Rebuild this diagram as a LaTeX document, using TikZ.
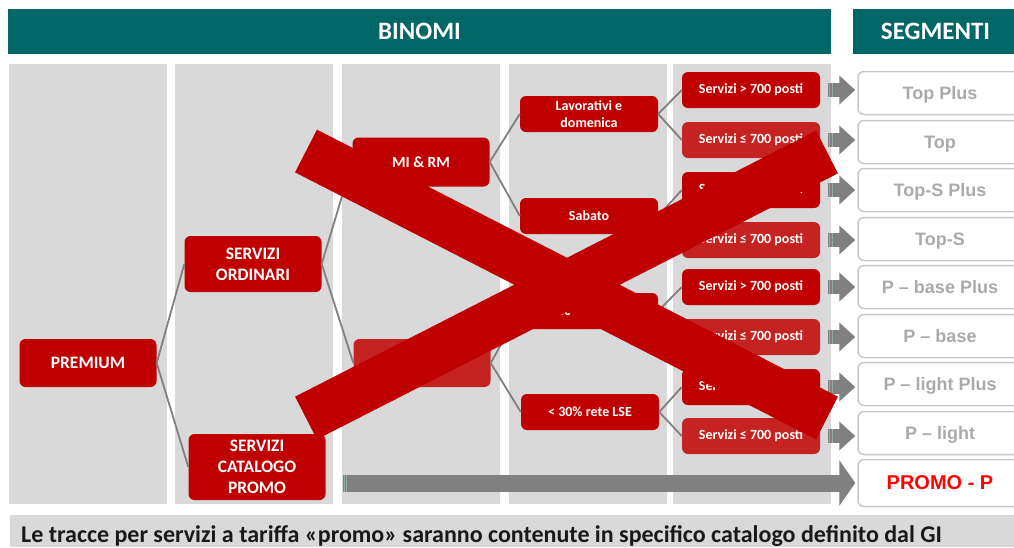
\documentclass[tikz,border=0pt]{standalone}
\usepackage{fontspec}
\setmainfont{Carlito}
\newfontfamily\segfont{Liberation Sans}
\usetikzlibrary{arrows.meta}
\definecolor{binteal}{RGB}{0,102,102}
\definecolor{binred}{RGB}{192,0,0}
\definecolor{binredl}{RGB}{197,34,34}
\definecolor{colgrey}{RGB}{217,217,217}
\definecolor{lnkgrey}{RGB}{128,128,128}
\definecolor{stripegrey}{RGB}{150,168,168}
\definecolor{seggrey}{RGB}{170,170,170}
\definecolor{segline}{RGB}{200,200,200}
\definecolor{promored}{RGB}{255,0,0}
\begin{document}
\begin{tikzpicture}[x=1pt, y=-1pt, line join=round,
  headbar/.style={fill=binteal, text=white, minimum height=45pt, inner sep=0pt, font=\fontsize{25}{30}\selectfont\bfseries},
  redbox/.style={fill=binred, text=white, rounded corners=6pt, align=center, inner sep=0pt, minimum width=137pt, minimum height=48pt, font=\fontsize{17.5}{21}\selectfont\bfseries},
  smallbox/.style={redbox, minimum width=138pt, minimum height=36pt, font=\fontsize{14}{17}\selectfont\bfseries},
  postobox/.style={smallbox, font=\fontsize{14}{17}\selectfont\bfseries},
  segbox/.style={draw=segline, line width=1.5pt, fill=white, rounded corners=6pt, minimum width=164pt, minimum height=43pt, inner sep=0pt, text depth=0pt, text=seggrey, font=\segfont\fontsize{18}{21}\selectfont\bfseries},
  conn/.style={draw=lnkgrey, line width=1.8pt},
  segarrow/.style={draw=lnkgrey, line width=14pt, -{Triangle[length=16pt,width=28pt]}, shorten <=8pt, shorten >=2pt},
  stripe/.style={draw=stripegrey, line width=1pt},
  xbar/.style={draw=binred, line width=48pt}]
  \def\cw{79}
  \useasboundingbox (0,0) rectangle (1014,547);
  \fill[white] (0,0) rectangle (1014,547);
  \foreach \x in {88,254,421,588,752}
    \fill[colgrey] (\x-\cw,64) rectangle (\x+\cw,504);
  \node[headbar, minimum width=823pt] (binomi) at (419.5,31.5) {BINOMI};
  \node[headbar, minimum width=165pt] (segm) at (935.5,31.5) {SEGMENTI};
  \node[redbox] (prem) at (88,363) {PREMIUM};
  \node[redbox, minimum height=56pt] (ord) at (253,264) {SERVIZI\\ORDINARI};
  \node[redbox, minimum height=66pt] (cat) at (257,467) {SERVIZI\\CATALOGO\\PROMO};
  \node[redbox, minimum height=49pt, font=\fontsize{15.5}{19}\selectfont\bfseries] (mi) at (421,162) {MI \& RM};
  \node[redbox, fill=binredl, font=\fontsize{15.5}{19}\selectfont\bfseries] (alt) at (422,363) {ALTRI OD};
  \node[smallbox] (lav) at (589,114) {Lavorativi e\\domenica};
  \node[smallbox] (sab) at (589,216) {Sabato};
  \node[postobox] (mid) at (589,311) {≥ 30\% rete LSE};
  \node[postobox] (lse) at (590,412) {< 30\% rete LSE};
  \foreach \y/\c/\s [count=\i] in {90/binred/>, 140/binredl/≤, 190/binred/>, 240/binredl/≤, 287/binred/>, 337/binredl/≤, 387/binred/>, 436/binredl/≤}
    \node[postobox, fill=\c] (p\i) at (751,\y) {Servizi \s{} 700 posti};
  \foreach \y/\t [count=\i] in {93/Top Plus, 142/Top, 190/Top-S Plus, 239/Top-S, 287/P – base Plus, 336/P – base, 384/P – light Plus, 433/P – light}
    \node[segbox] (s\i) at (940,\y) {\t};
  \node[segbox, minimum height=47pt, text=promored, font=\segfont\fontsize{20}{24}\selectfont\bfseries] (promo) at (940,483) {PROMO - P};
  \foreach \a/\b in {prem/ord, prem/cat, ord/mi, ord/alt, mi/lav, mi/sab, alt/mid, alt/lse, lav/p1, lav/p2, sab/p3, sab/p4, mid/p5, mid/p6, lse/p7, lse/p8}
    \draw[conn] (\a.east) -- (\b.west);
  \foreach \i in {1,...,8}{
    \draw[segarrow] (p\i.east) -- (p\i.east -| s\i.west);
    \foreach \d in {9.5,12}
      \draw[stripe] ([xshift=\d pt]p\i.east) ++(0,-7) -- ++(0,14);
  }
  \draw[draw=lnkgrey, line width=17pt, -{Triangle[length=16pt,width=45pt]}, shorten <=17pt, shorten >=2pt] (cat.east |- promo.west) -- (promo.west);
  \foreach \d in {18.5,21}
    \draw[stripe] ([xshift=\d pt]cat.east |- promo.west) ++(0,-8.5) -- ++(0,17);
  \draw[xbar] (306,151) -- (827,418);
  \draw[xbar] (306,418) -- (827,152);
  \fill[colgrey] (10,515) rectangle (1014,547);
  \node[anchor=base west, inner sep=0pt, text=black!90, font=\fontsize{24}{28}\selectfont\bfseries] (nota) at (21,542) {Le tracce per servizi a tariffa «promo» saranno contenute in specifico catalogo definito dal GI};
\end{tikzpicture}
\end{document}
